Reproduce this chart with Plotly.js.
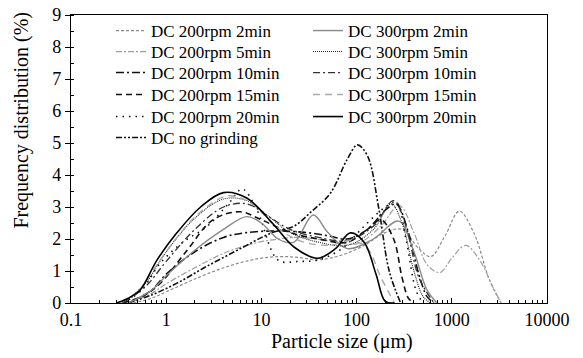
<!DOCTYPE html>
<html>
<head>
<meta charset="utf-8">
<script src="https://cdn.plot.ly/plotly-3.0.1.min.js"></script>
<style>html,body{margin:0;padding:0;background:#fff;}#chart{width:583px;height:358px;}</style>
</head>
<body>
<div id="chart"></div>
<script>
// ---- Data (particle size in µm, frequency in %) ----
const names = [
  "DC 200rpm 2min", "DC 200rpm 5min", "DC 200rpm 10min", "DC 200rpm 15min", "DC 200rpm 20min", "DC no grinding",
  "DC 300rpm 2min", "DC 300rpm 5min", "DC 300rpm 10min", "DC 300rpm 15min", "DC 300rpm 20min"
];

const x_200_2  = [0.45, 0.7, 1, 2, 4, 8, 15, 25, 40, 70, 120, 200, 300, 450, 600, 850, 1200, 1700, 2500, 3300];
const y_200_2  = [0, 0.15, 0.35, 0.75, 1.1, 1.35, 1.45, 1.42, 1.35, 1.5, 1.8, 2.2, 2.3, 1.7, 1.45, 2.1, 2.87, 2.2, 0.7, 0];

const x_200_5  = [0.4, 0.7, 1, 2, 4, 8, 15, 25, 50, 100, 180, 280, 400, 550, 750, 1000, 1400, 2000, 2700, 3300];
const y_200_5  = [0, 0.3, 0.6, 1.1, 1.55, 1.85, 2.0, 2.05, 1.95, 1.85, 2.4, 3.05, 2.2, 1.2, 0.95, 1.4, 1.8, 1.3, 0.5, 0];

const x_200_10 = [0.4, 0.7, 1, 2, 4, 7, 15, 30, 50, 80, 130, 200, 260, 350, 450, 550, 650];
const y_200_10 = [0, 0.4, 0.9, 1.6, 2.05, 2.2, 2.25, 2.2, 2.1, 2.0, 2.3, 2.9, 3.1, 2.2, 0.9, 0.2, 0];

const x_200_15 = [0.35, 0.6, 0.87, 1.66, 3.1, 6, 10, 20, 40, 80, 130, 180, 245, 300, 350, 400];
const y_200_15 = [0, 0.25, 0.62, 1.65, 2.6, 2.85, 2.6, 2.2, 2.0, 1.9, 2.3, 2.6, 2.0, 0.8, 0.15, 0];

const x_200_20 = [0.35, 0.55, 0.87, 1.5, 2.7, 4.5, 6.3, 9, 15, 25, 40, 70, 120, 200, 260, 330, 420, 500];
const y_200_20 = [0, 0.4, 1.25, 1.9, 2.4, 3.1, 3.56, 2.9, 1.34, 1.3, 1.35, 1.7, 2.4, 3.0, 3.15, 2.0, 0.4, 0];

const x_nogrind = [0.4, 0.7, 1.3, 2.5, 5.6, 13, 22, 33, 53, 80, 102, 130, 170, 220, 290];
const y_nogrind = [0, 0.25, 0.62, 1.1, 1.65, 2.2, 2.4, 2.84, 3.43, 4.5, 4.94, 4.6, 3.0, 1.0, 0];

const x_300_2  = [0.4, 0.7, 1, 2, 4, 7, 10, 15, 22, 35, 50, 80, 150, 277, 400, 550, 700];
const y_300_2  = [0, 0.4, 0.85, 1.65, 2.3, 2.7, 2.5, 2.0, 1.9, 2.75, 2.2, 1.7, 2.0, 2.56, 1.6, 0.4, 0];

const x_300_5  = [0.35, 0.6, 1, 2, 4, 7, 12, 20, 40, 80, 150, 230, 300, 400, 500, 600];
const y_300_5  = [0, 0.6, 1.6, 2.65, 3.25, 3.2, 2.7, 2.2, 1.9, 1.8, 2.3, 3.1, 2.5, 1.0, 0.2, 0];

const x_300_10 = [0.35, 0.6, 1, 2, 4, 7, 12, 20, 40, 80, 150, 245, 330, 450, 650];
const y_300_10 = [0, 0.5, 1.3, 2.3, 3.0, 3.1, 2.7, 2.3, 2.05, 1.95, 2.4, 3.2, 2.4, 0.8, 0];

const x_300_15 = [0.32, 0.5, 0.8, 1.3, 2.3, 4.5, 8, 14, 25, 50, 90, 130, 180, 250];
const y_300_15 = [0, 0.35, 1.2, 2.05, 2.85, 3.35, 3.1, 2.4, 1.95, 1.8, 1.95, 1.7, 0.8, 0];

const x_300_20 = [0.3, 0.4, 0.53, 0.8, 1.3, 2.3, 4, 7, 13, 22, 39, 60, 86, 120, 160, 200, 250];
const y_300_20 = [0, 0.15, 0.4, 1.34, 2.2, 3.0, 3.45, 3.28, 2.5, 1.75, 1.4, 1.7, 2.19, 1.9, 0.9, 0.05, 0];

const xTickVals = [0.1, 1, 10, 100, 1000, 10000];
const xTickText = ["0.1", "1", "10", "100", "1000", "10000"];
const yTickVals = [0, 1, 2, 3, 4, 5, 6, 7, 8, 9];
const xTitle = "Particle size (\u03bcm)";
const yTitle = "Frequency distribution (%)";

// ---- Styles ----
const styles = [
  {color: "#8a8a8a", dash: "3px,2px", width: 1.2},
  {color: "#a0a0a0", dash: "6px,2px,2px,2px", width: 1.2},
  {color: "#111", dash: "8px,3px,2px,3px", width: 1.6},
  {color: "#111", dash: "6px,4px", width: 1.6},
  {color: "#111", dash: "1.5px,5px", width: 1.6},
  {color: "#111", dash: "6px,2px,2px,2px,2px,2px", width: 1.6},
  {color: "#8a8a8a", dash: "solid", width: 1.4},
  {color: "#222", dash: "1px,1px", width: 1.1},
  {color: "#333", dash: "7px,3px,2px,3px", width: 1.3},
  {color: "#aaaaaa", dash: "7px,5px", width: 1.4},
  {color: "#000", dash: "solid", width: 1.6}
];

const xs = [x_200_2, x_200_5, x_200_10, x_200_15, x_200_20, x_nogrind, x_300_2, x_300_5, x_300_10, x_300_15, x_300_20];
const ys = [y_200_2, y_200_5, y_200_10, y_200_15, y_200_20, y_nogrind, y_300_2, y_300_5, y_300_10, y_300_15, y_300_20];

const legendId = i => (i === 0 ? "legend" : "legend" + (i + 1));

const traces = names.map((n, i) => ({
  x: xs[i], y: ys[i], name: n, type: "scatter", mode: "lines",
  line: {color: styles[i].color, dash: styles[i].dash, width: styles[i].width, shape: "spline", smoothing: 1},
  legend: legendId(i),
  hoverinfo: "skip"
}));

const FAM = "Liberation Serif";

const layout = {
  width: 583, height: 358,
  margin: {l: 71, r: 36, t: 15, b: 55},
  paper_bgcolor: "#fff", plot_bgcolor: "#fff",
  font: {family: FAM, size: 17, color: "#000"},
  showlegend: true,
  xaxis: {
    type: "log", range: [-1, 4],
    tickvals: xTickVals, ticktext: xTickText,
    ticks: "inside", ticklen: 5, tickwidth: 1, tickcolor: "#000",
    minor: {ticks: "inside", ticklen: 3, tickcolor: "#000", dtick: "D1", showgrid: false},
    showline: true, linecolor: "#000", linewidth: 1.2, mirror: true,
    showgrid: false, zeroline: false,
    tickfont: {family: FAM, size: 18, color: "#000"}
  },
  yaxis: {
    range: [0, 9],
    tickvals: yTickVals,
    ticks: "outside", ticklen: 5, tickwidth: 1, tickcolor: "#000",
    minor: {ticks: "inside", ticklen: 3, tickcolor: "#000", dtick: 0.5, showgrid: false},
    showline: true, linecolor: "#000", linewidth: 1.2, mirror: true,
    showgrid: false, zeroline: false,
    tickfont: {family: FAM, size: 18, color: "#000"}
  },
  annotations: [
    {text: xTitle, xref: "paper", yref: "paper", x: 0.569, y: -0.132, xanchor: "center", yanchor: "middle",
     showarrow: false, font: {family: FAM, size: 20, color: "#000"}},
    {text: yTitle, xref: "paper", yref: "paper", x: -0.104, y: 0.635, xanchor: "center", yanchor: "middle",
     textangle: -90, showarrow: false, font: {family: FAM, size: 20, color: "#000"}}
  ]
};

// one single-entry legend per series, arranged in two columns
const rowY = [0.9444, 0.8715, 0.7986, 0.7222, 0.6458, 0.5729];
names.forEach((n, i) => {
  const col = i < 6 ? 0 : 1;
  const row = i < 6 ? i : i - 6;
  layout[legendId(i)] = {
    x: col === 0 ? 0.084 : 0.498, y: rowY[row],
    xanchor: "left", yanchor: "middle",
    font: {family: FAM, size: 17, color: "#000"},
    bgcolor: "rgba(0,0,0,0)", borderwidth: 0, itemwidth: 30
  };
});

Plotly.newPlot("chart", traces, layout, {staticPlot: true, displayModeBar: false});
</script>
</body>
</html>
